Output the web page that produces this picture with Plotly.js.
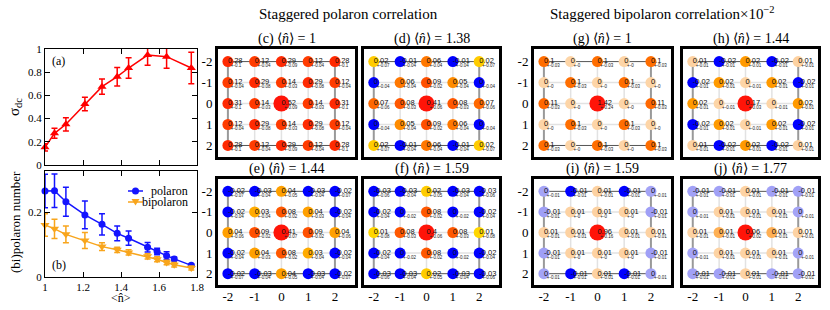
<!DOCTYPE html>
<html><head><meta charset="utf-8">
<script src="https://cdn.plot.ly/plotly-3.0.1.min.js"></script>
<style>html,body{margin:0;padding:0;background:#fff}#chart{width:830px;height:310px}</style>
</head><body><div id="chart"></div>
<script>
// ---------------- data: panel (a) ----------------
const nA       = [1, 1.05, 1.11, 1.21, 1.30, 1.38, 1.44, 1.54, 1.64, 1.77];
const sigmaDC  = [0.152, 0.273, 0.351, 0.526, 0.675, 0.761, 0.836, 0.948, 0.934, 0.836];
const sigmaErr = [0.032, 0.043, 0.057, 0.059, 0.066, 0.079, 0.089, 0.089, 0.10, 0.135];
// ---------------- data: panel (b) ----------------
const nB           = [1, 1.05, 1.11, 1.21, 1.30, 1.38, 1.44, 1.54, 1.59, 1.64, 1.68, 1.77];
const polaron      = [0.266, 0.267, 0.233, 0.192, 0.163, 0.135, 0.120, 0.092, 0.079, 0.066, 0.056, 0.036];
const polaronErr   = [0.052, 0.052, 0.045, 0.043, 0.033, 0.023, 0.022, 0.015, 0.010, 0.012, 0.006, 0.004];
const bipolaron    = [0.161, 0.149, 0.132, 0.113, 0.094, 0.084, 0.076, 0.064, 0.055, 0.045, 0.038, 0.028];
const bipolaronErr = [0.035, 0.030, 0.026, 0.025, 0.012, 0.008, 0.008, 0.008, 0.008, 0.007, 0.007, 0.006];
// ---------------- data: correlation maps (rows y=-2..2, cols x=-2..2) ----------------
const siteX = [-2, -1, 0, 1, 2];
const siteY = [-2, -1, 0, 1, 2];
const mapTags  = ['(c)', '(d)', '(e)', '(f)', '(g)', '(h)', '(i)', '(j)'];
const mapFill  = ['1', '1.38', '1.44', '1.59', '1', '1.44', '1.59', '1.77'];
const corrC = [[0.28,0.12,0.29,0.12,0.28],[0.12,0.29,0.14,0.29,0.12],[0.31,0.14,0.52,0.14,0.31],[0.12,0.29,0.14,0.29,0.12],[0.28,0.12,0.29,0.12,0.28]];
const errC  = [[0.1,0.04,0.09,0.04,0.1],[0.04,0.08,0.03,0.08,0.04],[0.1,0.03,0.09,0.03,0.1],[0.04,0.08,0.03,0.08,0.04],[0.1,0.04,0.09,0.04,0.1]];
const corrD = [[0.02,-0.01,0.06,-0.01,0.02],[-0.004,0.06,0.09,0.05,-0.004],[0.07,0.08,0.41,0.08,0.07],[-0.004,0.05,0.09,0.06,-0.004],[0.02,-0.01,0.06,-0.01,0.02]];
const errD  = [[0.07,0.04,0.04,0.04,0.07],[0.04,0.04,0.02,0.04,0.04],[0.06,0.03,0.06,0.03,0.06],[0.04,0.04,0.02,0.04,0.04],[0.07,0.04,0.04,0.04,0.07]];
const corrE = [[-0.02,-0.03,0.04,-0.03,-0.02],[-0.02,0.03,0.08,0.04,-0.02],[0.04,0.09,0.41,0.09,0.04],[-0.02,0.04,0.08,0.03,-0.02],[-0.02,-0.03,0.04,-0.03,-0.02]];
const errE  = [[0.07,0.04,0.05,0.04,0.07],[0.04,0.04,0.02,0.03,0.04],[0.06,0.02,0.07,0.02,0.06],[0.04,0.03,0.02,0.04,0.04],[0.07,0.04,0.05,0.04,0.07]];
const corrF = [[-0.03,-0.03,0.02,-0.03,-0.03],[-0.02,-0.004,0.08,-0.004,-0.02],[0.01,0.08,0.40,0.08,0.01],[-0.02,-0.004,0.08,-0.004,-0.02],[-0.03,-0.03,0.02,-0.03,-0.03]];
const errF  = [[0.06,0.04,0.05,0.04,0.06],[0.04,0.02,0.02,0.02,0.04],[0.08,0.03,0.06,0.03,0.08],[0.04,0.02,0.02,0.02,0.04],[0.06,0.04,0.05,0.04,0.06]];
const corrG = [[0.1,0.002,0.1,0.002,0.1],[0.002,0.1,0.002,0.1,0.002],[0.11,0.002,1.42,0.002,0.11],[0.002,0.1,0.002,0.1,0.002],[0.1,0.002,0.1,0.002,0.1]];
const errG  = [[0.03,0,0.03,0,0.03],[0,0.03,0,0.03,0],[0.03,0,0.24,0,0.03],[0,0.03,0,0.03,0],[0.03,0,0.03,0,0.03]];
const corrH = [[0.008,-0.02,0.02,-0.02,0.008],[-0.02,0.02,0.002,0.02,-0.02],[0.02,0.002,0.17,0.002,0.02],[-0.02,0.02,0.002,0.02,-0.02],[0.008,-0.02,0.02,-0.02,0.008]];
const errH  = [[0.01,0.01,0.01,0.01,0.01],[0.01,0.01,0.01,0.01,0.01],[0.01,0.01,0.03,0.01,0.01],[0.01,0.01,0.01,0.01,0.01],[0.01,0.01,0.01,0.01,0.01]];
const corrI = [[-0.003,-0.013,0.008,-0.013,-0.003],[-0.007,0.008,0.008,0.008,-0.007],[0.008,0.008,0.96,0.008,0.008],[-0.007,0.008,0.008,0.008,-0.007],[-0.003,-0.013,0.008,-0.013,-0.003]];
const errI  = [[0.01,0.01,0.01,0.01,0.01],[0.01,0,0,0,0.01],[0.01,0.01,0.16,0.01,0.01],[0.01,0,0,0,0.01],[0.01,0.01,0.01,0.01,0.01]];
const corrJ = [[-0.006,-0.006,0.006,-0.006,-0.006],[-0.003,0.006,0.006,0.006,-0.003],[0.006,0.013,0.06,0.013,0.006],[-0.003,0.006,0.006,0.006,-0.003],[-0.006,-0.006,0.006,-0.006,-0.006]];
const errJ  = [[0.01,0.01,0.01,0.01,0.01],[0.01,0.01,0.01,0.01,0.01],[0.01,0.01,0.02,0.01,0.01],[0.01,0.01,0.01,0.01,0.01],[0.01,0.01,0.01,0.01,0.01]];
const mapValues = [corrC, corrD, corrE, corrF, corrG, corrH, corrI, corrJ];
const mapErrors = [errC, errD, errE, errF, errG, errH, errI, errJ];

// ---------------- styling / geometry ----------------
const W = 830, H = 310;
const px = x => x / W, py = y => 1 - y / H;
const SERIF = 'Liberation Serif, Times New Roman, serif';
const SANS = 'Liberation Sans, Arial, sans-serif';
// palettes in absolute value units: [value, colour]
const palettes = [
  {cmin:-0.05, cmax:0.6, stops:[[-0.05,'#0000ff'],[0.004,'#0000ff'],[0.008,'#ffd800'],[0.02,'#ffcc00'],[0.03,'#ffab00'],[0.04,'#ffa000'],[0.05,'#ff8c00'],[0.06,'#ff7800'],[0.08,'#ff5800'],[0.1,'#ff4800'],[0.12,'#ff3c00'],[0.25,'#ff2c00'],[0.6,'#ff1a10']]},
  {cmin:-0.02, cmax:0.15, stops:[[-0.02,'#0000ff'],[-0.012,'#0000ff'],[-0.009,'#9d9df6'],[-0.0001,'#a8a8f6'],[0,'#fdd6a8'],[0.011,'#fdd0a0'],[0.014,'#ffa030'],[0.02,'#ff9a00'],[0.05,'#ff8400'],[0.1,'#ff6e00'],[0.15,'#ff5000']]}
];
const ORIGIN_RED = '#ff1408';
const toScale = p => p.stops.map(([v, c]) => [(v - p.cmin) / (p.cmax - p.cmin), c]);
const boxes = [
  {L:218, R:355, T:49, B:157, group:0, left:true,  bottom:false},
  {L:364, R:499, T:49, B:157, group:0, left:false, bottom:false},
  {L:218, R:355, T:179, B:285, group:0, left:true,  bottom:true},
  {L:364, R:499, T:179, B:285, group:0, left:false, bottom:true},
  {L:534, R:671, T:49, B:157, group:1, left:true,  bottom:false},
  {L:683, R:818, T:49, B:157, group:1, left:false, bottom:false},
  {L:534, R:671, T:179, B:285, group:1, left:true,  bottom:true},
  {L:683, R:818, T:179, B:285, group:1, left:false, bottom:true}
];
const fmt = v => String(Number(v.toFixed(2)));

const data = [];
const layout = {
  width: W, height: H, margin: {l:0, r:0, t:0, b:0},
  paper_bgcolor: '#ffffff', plot_bgcolor: 'rgba(0,0,0,0)', showlegend: false,
  font: {family: SERIF, color: '#000', size: 12},
  shapes: [], annotations: []
};

// ---- panels (a), (b)
const commonLeftAxis = {showline:true, mirror:'ticks', linecolor:'#000', linewidth:1, ticks:'inside', ticklen:5, tickcolor:'#000', showgrid:false, zeroline:false, tickfont:{family:SERIF, size:11}};
layout.xaxis  = Object.assign({}, commonLeftAxis, {domain:[px(45), px(197)], range:[1, 1.8], tickvals:[1,1.2,1.4,1.6,1.8], showticklabels:false, anchor:'y'});
layout.yaxis  = Object.assign({}, commonLeftAxis, {domain:[py(165), py(49)], range:[0, 1], dtick:0.2, tick0:0, anchor:'x'});
layout.xaxis2 = Object.assign({}, commonLeftAxis, {domain:[px(45), px(197)], range:[1, 1.8], tickvals:[1,1.2,1.4,1.6,1.8], anchor:'y2'});
layout.yaxis2 = Object.assign({}, commonLeftAxis, {domain:[py(277), py(171)], range:[0, 0.328], dtick:0.2, tick0:0, anchor:'x2'});

data.push({type:'scatter', x:nA, y:sigmaDC, xaxis:'x', yaxis:'y', mode:'lines+markers', cliponaxis:false,
  line:{color:'#ff0000', width:1.5}, marker:{symbol:'triangle-up', size:8, color:'#ff0000'},
  error_y:{type:'data', array:sigmaErr, color:'#ff0000', thickness:1.5, width:3}});
data.push({type:'scatter', x:nB, y:polaron, xaxis:'x2', yaxis:'y2', mode:'lines+markers', cliponaxis:false,
  line:{color:'#1414ff', width:1.5}, marker:{symbol:'circle', size:7, color:'#1414ff'},
  error_y:{type:'data', array:polaronErr, color:'#1414ff', thickness:1.5, width:3}});
data.push({type:'scatter', x:nB, y:bipolaron, xaxis:'x2', yaxis:'y2', mode:'lines+markers', cliponaxis:false,
  line:{color:'#f8a51c', width:1.5}, marker:{symbol:'triangle-down', size:8, color:'#f8a51c'},
  error_y:{type:'data', array:bipolaronErr, color:'#f8a51c', thickness:1.5, width:3}});

layout.annotations.push(
  {xref:'paper', yref:'paper', x:px(50), y:py(61), xanchor:'left', yanchor:'middle', text:'(a)', showarrow:false, font:{family:SERIF, size:12}},
  {xref:'paper', yref:'paper', x:px(50), y:py(265), xanchor:'left', yanchor:'middle', text:'(b)', showarrow:false, font:{family:SERIF, size:12}},
  {xref:'paper', yref:'paper', x:px(15), y:py(107), xanchor:'center', yanchor:'middle', textangle:-90, text:'σ<sub>dc</sub>', showarrow:false, font:{family:SERIF, size:15}},
  {xref:'paper', yref:'paper', x:px(15), y:py(222), xanchor:'center', yanchor:'middle', textangle:-90, text:'(bi)polaron number', showarrow:false, font:{family:SERIF, size:13}},
  {xref:'paper', yref:'paper', x:px(121), y:py(298), xanchor:'center', yanchor:'middle', text:'&lt;n\u0302&gt;', showarrow:false, font:{family:SERIF, size:12}},
  {xref:'paper', yref:'paper', x:px(190), y:py(191), xanchor:'right', yanchor:'middle', text:'polaron', showarrow:false, font:{family:SERIF, size:12}},
  {xref:'paper', yref:'paper', x:px(190), y:py(202), xanchor:'right', yanchor:'middle', text:'bipolaron', showarrow:false, font:{family:SERIF, size:12}}
);
// legend samples (decorations)
layout.shapes.push(
  {type:'line', xref:'paper', yref:'paper', x0:px(128), x1:px(143), y0:py(191), y1:py(191), line:{color:'#1414ff', width:1.5}},
  {type:'circle', xref:'paper', yref:'paper', x0:px(132), x1:px(139), y0:py(194.5), y1:py(187.5), fillcolor:'#1414ff', line:{width:0}},
  {type:'line', xref:'paper', yref:'paper', x0:px(128), x1:px(143), y0:py(202), y1:py(202), line:{color:'#f8a51c', width:1.5}},
  {type:'path', xref:'paper', yref:'paper', path:`M ${px(131.5)},${py(199)} L ${px(139.5)},${py(199)} L ${px(135.5)},${py(205.5)} Z`, fillcolor:'#f8a51c', line:{width:0}}
);

// ---- main titles
layout.annotations.push(
  {xref:'paper', yref:'paper', x:px(348), y:py(14), xanchor:'center', yanchor:'middle', text:'Staggered polaron correlation', showarrow:false, font:{family:SERIF, size:15}},
  {xref:'paper', yref:'paper', x:px(662), y:py(13), xanchor:'center', yanchor:'middle', text:'Staggered bipolaron correlation×10<sup>−2</sup>', showarrow:false, font:{family:SERIF, size:15}}
);

// ---- correlation maps
mapValues.forEach((vals, k) => {
  const b = boxes[k];
  const n = k + 3;
  const xa = 'x' + n, ya = 'y' + n;
  layout['xaxis' + n] = {domain:[px(b.L), px(b.R)], range:[-2.37, 2.75], anchor:ya, showgrid:false, zeroline:false,
    showline:true, mirror:true, linecolor:'#000', linewidth:3, ticks:'', tickvals:siteX, ticktext:siteX.map(String),
    showticklabels:b.bottom, ticklabelstandoff:-3, tickfont:{family:SERIF, size:13}};
  layout['yaxis' + n] = {domain:[py(b.B), py(b.T)], range:[2.55, -2.6], anchor:xa, showgrid:false, zeroline:false,
    showline:true, mirror:true, linecolor:'#000', linewidth:3, ticks:'', tickvals:siteY, ticktext:siteY.map(String),
    showticklabels:b.left, tickfont:{family:SERIF, size:13}};
  const x0 = siteX[0], x1 = siteX[siteX.length - 1], y0 = siteY[0], y1 = siteY[siteY.length - 1];
  siteX.slice(1, -1).forEach(c => layout.shapes.push({type:'line', xref:xa, yref:ya, layer:'between', x0:c, x1:c, y0:y0, y1:y1, line:{color:'#e2e2e2', width:1.5}}));
  siteY.slice(1, -1).forEach(r => layout.shapes.push({type:'line', xref:xa, yref:ya, layer:'between', x0:x0, x1:x1, y0:r, y1:r, line:{color:'#e2e2e2', width:1.5}}));
  [y0, y1].forEach(r => layout.shapes.push({type:'line', xref:xa, yref:ya, layer:'between', x0:x0, x1:x1, y0:r, y1:r, line:{color:'#555', width:1}}));
  [x0, x1].forEach(c => layout.shapes.push({type:'line', xref:xa, yref:ya, layer:'between', x0:c, x1:c, y0:y0, y1:y1, line:{color:'#999', width:2}}));

  const xs = [], ys = [], vs = [], es = [];
  siteY.forEach((r, i) => siteX.forEach((c, j) => { xs.push(c); ys.push(r); vs.push(vals[i][j]); es.push(mapErrors[k][i][j]); }));
  const isOrigin = i => xs[i] === 0 && ys[i] === 0;
  const idxSite = xs.map((_, i) => i).filter(i => !isOrigin(i));
  const idxOrig = xs.map((_, i) => i).filter(i => isOrigin(i));
  const pal = palettes[b.group];
  // neighbour sites: colour from the group palette
  data.push({type:'scatter', x:idxSite.map(i => xs[i]), y:idxSite.map(i => ys[i]), xaxis:xa, yaxis:ya, mode:'markers', cliponaxis:false, hoverinfo:'skip',
    marker:{size:11, opacity:1, color:idxSite.map(i => vs[i]), cmin:pal.cmin, cmax:pal.cmax, colorscale:toScale(pal), showscale:false, line:{width:0}}});
  // reference (origin) site
  data.push({type:'scatter', x:idxOrig.map(i => xs[i]), y:idxOrig.map(i => ys[i]), xaxis:xa, yaxis:ya, mode:'markers', cliponaxis:false, hoverinfo:'skip',
    marker:{size:16, opacity:1, color:ORIGIN_RED, line:{width:0}}});
  data.push({type:'scatter', x:xs, y:ys, xaxis:xa, yaxis:ya, mode:'text', cliponaxis:false, hoverinfo:'skip',
    text:vs.map(fmt), textposition:'middle right', textfont:{family:SANS, size:7.5, color:'#111'}});
  data.push({type:'scatter', x:xs.map(v => v + 0.11), y:ys.map(v => v + 0.22), xaxis:xa, yaxis:ya, mode:'text', cliponaxis:false, hoverinfo:'skip',
    text:es.map(e => '+-' + fmt(e)), textposition:'middle right', textfont:{family:SANS, size:4.5, color:'#222'}});
  layout.annotations.push({xref:'paper', yref:'paper', x:px((b.L + b.R) / 2), y:py(b.T - 10), xanchor:'center', yanchor:'middle',
    text:`${mapTags[k]} \u27e8<i>n\u0302</i>\u27e9 = ${mapFill[k]}`, showarrow:false, font:{family:SERIF, size:14}});
});

Plotly.newPlot('chart', data, layout, {staticPlot:true, displayModeBar:false});
</script>
</body></html>
